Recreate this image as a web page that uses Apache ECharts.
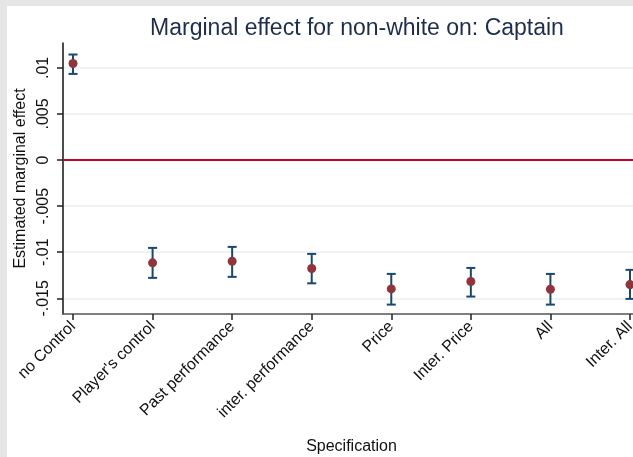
<!DOCTYPE html>
<html>
<head>
<meta charset="utf-8">
<script src="https://cdn.jsdelivr.net/npm/echarts@6/dist/echarts.min.js"></script>
<style>
  html, body { margin: 0; padding: 0; background: #e6e6e6; }
  #chart { width: 633px; height: 457px; }
</style>
</head>
<body>
<div id="chart"></div>
<script>
// specifications on the x axis
const specs = ['no Control', "Player's control", 'Past performance', 'inter. performance',
  'Price', 'Inter. Price', 'All', 'Inter. All']
// estimated marginal effect and its confidence interval
const effect = [0.01047, -0.01115, -0.01098, -0.01177, -0.01398, -0.01318, -0.01402, -0.01351]
const ciLow = [0.00935, -0.01278, -0.01267, -0.01337, -0.01568, -0.01481, -0.01568, -0.01506]
const ciHigh = [0.01145, -0.00953, -0.00942, -0.01018, -0.01235, -0.01170, -0.01235, -0.01191]
// y tick values and their labels (Stata style)
const yTicks = [-0.015, -0.01, -0.005, 0, 0.005, 0.01]
const yTickLabels = ['-.015', '-.01', '-.005', '0', '.005', '.01']

const chart = echarts.init(document.getElementById('chart'))
const navy = '#1a476f'
const maroon = '#90353b'
const xPos = specs.map((s, i) => i + 1)

const option = {
  animation: false,
  backgroundColor: '#e6e6e6',
  textStyle: { fontFamily: 'Liberation Sans, Arial, sans-serif' },
  graphic: [
    { type: 'rect', left: 7, top: 6, z: -10, shape: { width: 626, height: 451 }, style: { fill: '#ffffff' } }
  ],
  title: {
    text: 'Marginal effect for non-white on: Captain',
    left: 352,
    textAlign: 'center',
    top: 12,
    textStyle: { fontSize: 23, fontWeight: 'normal', color: '#1f2d4d', fontFamily: 'Liberation Sans, Arial, sans-serif' }
  },
  grid: { left: 63, top: 43, right: -7, bottom: 143, outerBoundsMode: 'none' },
  xAxis: {
    type: 'value',
    min: 0.874,
    max: 8.126,
    name: 'Specification',
    nameLocation: 'middle',
    nameGap: 125,
    nameTextStyle: { fontSize: 16, color: '#111', verticalAlign: 'top' },
    axisLine: { show: true, onZero: false, lineStyle: { color: '#555', width: 1.5 } },
    axisTick: { show: true, length: 6, customValues: xPos, lineStyle: { color: '#222', width: 1.5 } },
    axisLabel: {
      customValues: xPos,
      formatter: v => specs[Math.round(v) - 1],
      rotate: 45,
      fontSize: 16,
      color: '#111',
      margin: 10
    },
    splitLine: { show: false }
  },
  yAxis: {
    type: 'value',
    min: -0.0167,
    max: 0.0127,
    name: 'Estimated marginal effect',
    nameLocation: 'middle',
    nameGap: 26,
    nameTextStyle: { fontSize: 16, color: '#111' },
    axisLine: { show: true, onZero: false, lineStyle: { color: '#111', width: 1.5 } },
    axisTick: { show: true, length: 6, customValues: yTicks, lineStyle: { color: '#222', width: 1.5 } },
    axisLabel: {
      customValues: yTicks,
      formatter: v => yTickLabels[yTicks.findIndex(t => Math.abs(t - v) < 1e-9)],
      rotate: 90,
      fontSize: 16,
      color: '#111',
      margin: 11
    },
    splitLine: { show: true, lineStyle: { color: '#e8f1f3', width: 1.5 } }
  },
  series: [
    {
      type: 'custom',
      name: 'CI',
      data: xPos.map((x, i) => [x, ciLow[i], ciHigh[i]]),
      encode: { x: 0, y: [1, 2] },
      z: 3,
      renderItem(params, api) {
        const x = api.value(0)
        const top = api.coord([x, api.value(2)])
        const bot = api.coord([x, api.value(1)])
        const w = 4.5
        const style = { stroke: navy, lineWidth: 2 }
        return {
          type: 'group',
          children: [
            { type: 'line', shape: { x1: top[0], y1: top[1], x2: bot[0], y2: bot[1] }, style },
            { type: 'line', shape: { x1: top[0] - w, y1: top[1], x2: top[0] + w, y2: top[1] }, style },
            { type: 'line', shape: { x1: bot[0] - w, y1: bot[1], x2: bot[0] + w, y2: bot[1] }, style }
          ]
        }
      },
      markLine: {
        silent: true,
        symbol: 'none',
        label: { show: false },
        lineStyle: { color: '#c10534', width: 2, type: 'solid' },
        data: [{ yAxis: 0 }]
      }
    },
    {
      type: 'scatter',
      name: 'Effect',
      data: xPos.map((x, i) => [x, effect[i]]),
      symbolSize: 9,
      z: 4,
      itemStyle: { color: maroon, opacity: 1 }
    }
  ]
}

option && chart.setOption(option)
</script>
</body>
</html>
